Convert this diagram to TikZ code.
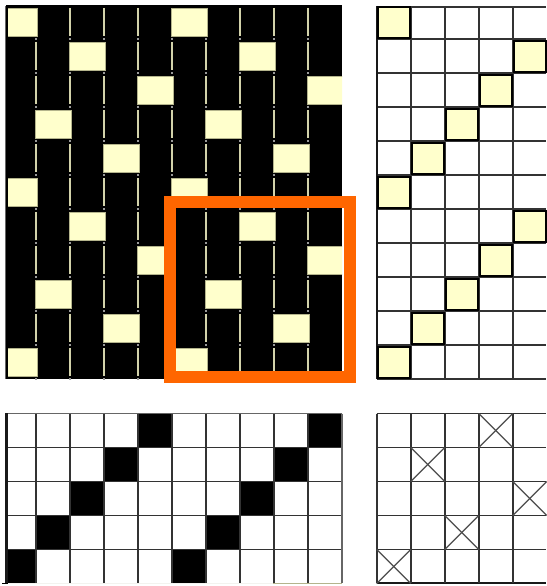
\documentclass[tikz,border=0pt]{standalone}
\usepackage{xcolor}
\definecolor{creamfill}{HTML}{FFFFCC}
\definecolor{creamedge}{HTML}{B4B48C}
\definecolor{threadcol}{HTML}{D2D2AA}
\definecolor{framecol}{HTML}{FF6600}

\begin{document}
\begin{tikzpicture}[
    x=1pt, y=-1pt,
    gridline/.style={draw=black!80, line width=1.8pt},
    gridframe/.style={draw=black!90, line width=2.1pt},
    softline/.style={draw=black!60, line width=1.3pt},
    thread/.style={draw=threadcol, line width=1.5pt},
    knot/.style={fill=black!40},
    creamcell/.style={fill=creamfill, draw=creamedge, line width=0.7pt},
    tiecell/.style={fill=creamfill, draw=black, line width=2.6pt},
    crossline/.style={draw=black!70, line width=1.2pt},
    frame/.style={draw=framecol, line width=12pt}
]
    \useasboundingbox (0,0) rectangle (546,586);
    \fill[white] (0,0) rectangle (546,586);

    % weave
    \fill[black] (6,5) rectangle (342,379);
    \draw[softline] (5.5,6) -- (5.5,379);
    \foreach \col in {1,...,9} {
        \foreach \row in {0,...,10} {
            \draw[thread] ({2+34*\col},{8+34*\row}) -- ({2+34*\col},{36+34*\row});
            \fill[knot] ({1+34*\col},{38+34*\row}) rectangle ({3+34*\col},{40+34*\row});
        }
    }
    \begin{scope}
        \clip (8,5) rectangle (342,379);
        \foreach \row/\col in {0/0,1/2,2/4,3/1,4/3,5/0,6/2,7/4,8/1,9/3,10/0} {
            \draw[creamcell] ({1+34*\col},{8+34*\row}) rectangle ({37+34*\col},{36+34*\row});
            \draw[creamcell] ({171+34*\col},{8+34*\row}) rectangle ({207+34*\col},{36+34*\row});
        }
    \end{scope}

    % threading
    \foreach \row in {0,...,10} {
        \draw[gridline] (376.7,{39+34*\row}) -- (546,{39+34*\row});
    }
    \draw[gridline] (376.7,7) -- (546,7);
    \foreach \col in {1,...,4} {
        \draw[gridline] ({376.7+34*\col},7) -- ({376.7+34*\col},379);
    }
    \draw[gridframe] (376.7,6) -- (376.7,379);
    \foreach \row/\col in {0/0,1/4,2/3,3/2,4/1,5/0,6/4,7/3,8/2,9/1,10/0} {
        \draw[tiecell] ({378+34*\col},{7+34*\row}) rectangle ({410+34*\col},{38+34*\row});
    }

    % treadling
    \foreach \row/\col in {0/4,1/3,2/2,3/1,4/0,0/9,1/8,2/7,3/6,4/5} {
        \fill[black] ({2+34*\col},{413.5+34*\row}) rectangle ({36+34*\col},{447.5+34*\row});
    }
    \fill[white] (0,413) rectangle (6,583);
    \foreach \row in {1,...,4} {
        \draw[gridline] (6,{413.5+34*\row}) -- (342,{413.5+34*\row});
    }
    \draw[softline] (6,413.5) -- (342,413.5);
    \foreach \col in {1,...,9} {
        \draw[gridline] ({2+34*\col},413.5) -- ({2+34*\col},583);
    }
    \draw[gridframe] (6.5,413) -- (6.5,583);
    \draw[softline] (342,413.5) -- (342,583);
    \draw[draw=creamfill!60!black!12, line width=1pt] (8,583.5) -- (273,583.5);
    \draw[draw=creamedge, line width=1.2pt] (273,583.5) -- (342,583.5);

    % tie-up
    \foreach \row in {0,...,4} {
        \draw[gridline] (376.7,{413.5+34*\row}) -- (546,{413.5+34*\row});
    }
    \draw[gridframe] (376.7,583) -- (546,583);
    \foreach \col in {0,...,4} {
        \draw[gridline] ({376.7+34*\col},413.5) -- ({376.7+34*\col},583);
    }
    \foreach \row/\col in {0/3,1/1,2/4,3/2,4/0} {
        \draw[crossline] ({376.7+34*\col},{413.5+34*\row}) -- ({410.7+34*\col},{447.5+34*\row});
        \draw[crossline] ({410.7+34*\col},{413.5+34*\row}) -- ({376.7+34*\col},{447.5+34*\row});
    }

    % highlight
    \draw[frame] (170,202) rectangle (350,377);
\end{tikzpicture}
\end{document}
